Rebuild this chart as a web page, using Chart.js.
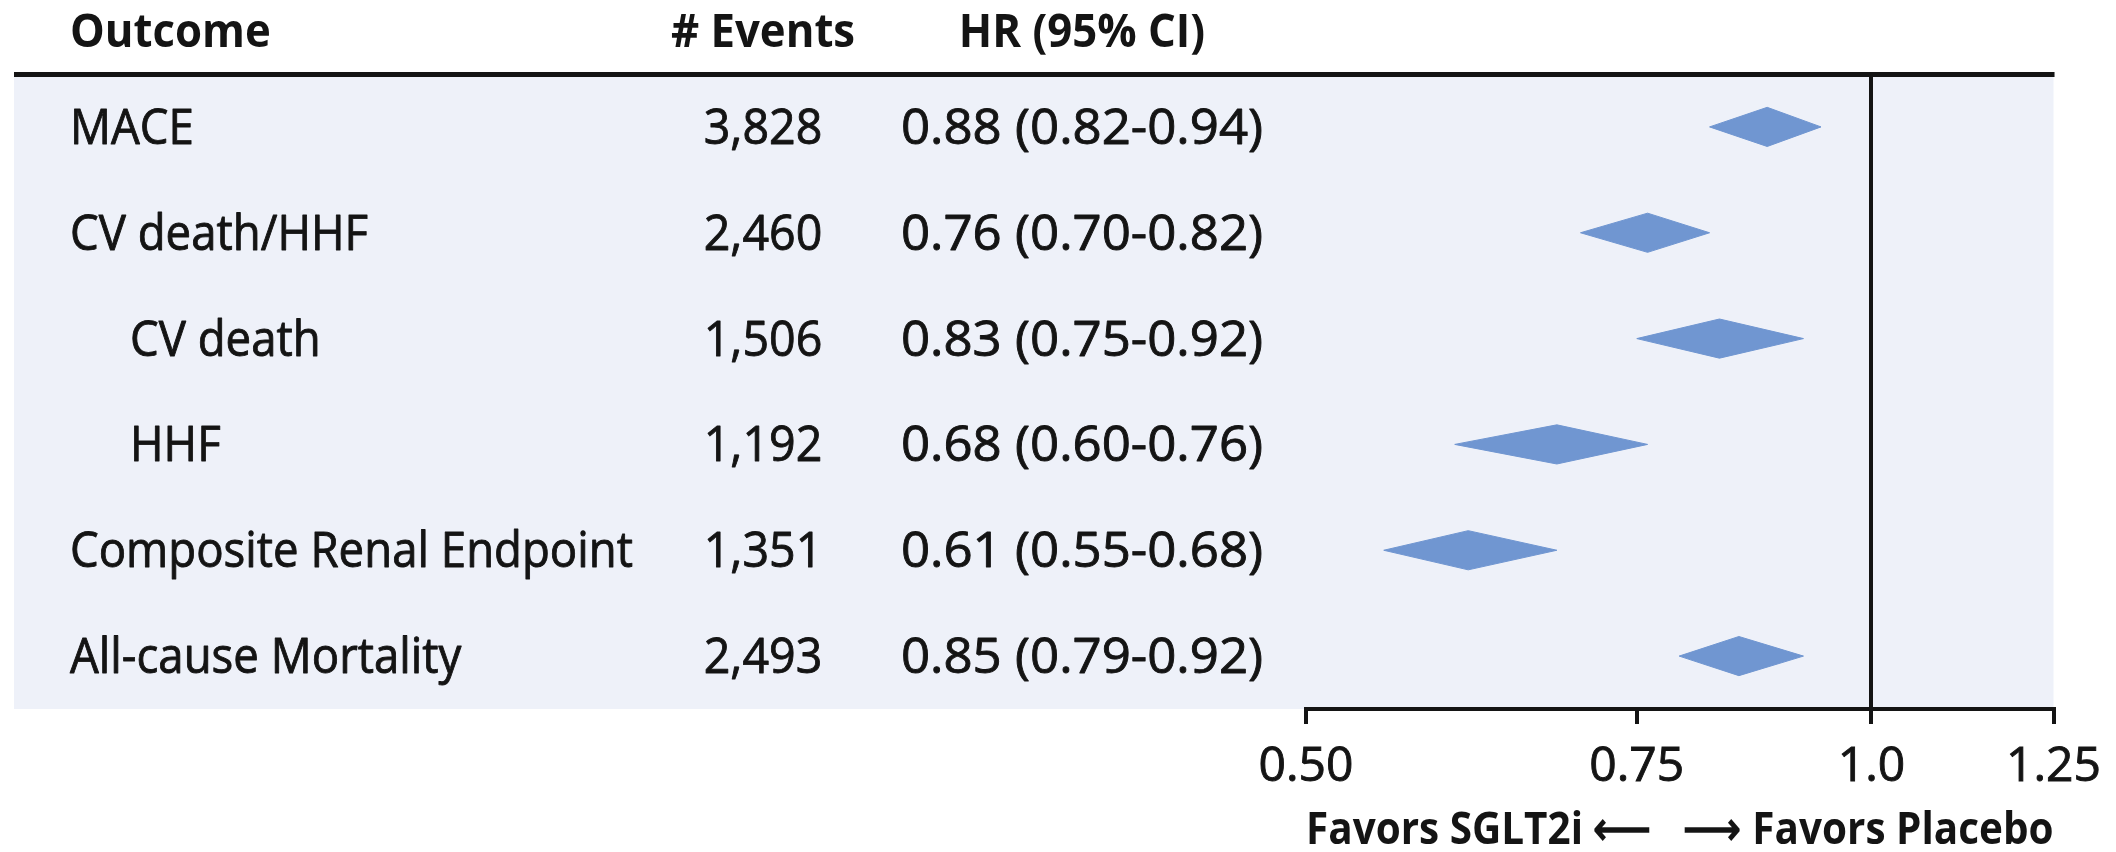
<!DOCTYPE html>
<html>
<head>
<meta charset="utf-8">
<script src="https://cdn.jsdelivr.net/npm/chart.js@4.4.1/dist/chart.umd.min.js"></script>
<style>
  html, body { margin: 0; padding: 0; background: #ffffff; }
  #wrap { width: 2116px; height: 852px; }
</style>
</head>
<body>
<div id="wrap"><canvas id="forest" width="2116" height="852"></canvas></div>
<script>
// Outcomes, event counts and hazard ratios with 95% confidence limits
const outcomes = ['MACE', 'CV death/HHF', 'CV death', 'HHF', 'Composite Renal Endpoint', 'All-cause Mortality'];
const subLevel = [0, 0, 1, 1, 0, 0];
const events = [3828, 2460, 1506, 1192, 1351, 2493];
const hr = [0.88, 0.76, 0.83, 0.68, 0.61, 0.85];
const ciLow = [0.82, 0.70, 0.75, 0.60, 0.55, 0.79];
const ciHigh = [0.94, 0.82, 0.92, 0.76, 0.68, 0.92];

// x axis (log scale) ticks and headings
const tickValues = [0.5, 0.75, 1.0, 1.25];
const tickLabels = ['0.50', '0.75', '1.0', '1.25'];
const headers = ['Outcome', '# Events', 'HR (95% CI)'];
const axisTitle = 'Favors SGLT2i \u27F5   \u27F6 Favors Placebo';

// styling
const FONT = "'Open Sans', 'Noto Sans', sans-serif";
const INK = '#141414';
const PANEL = '#eef1f9';
const DIAMOND = '#7096d1';
const HALF_H = 0.185;          // diamond half-height in row units
const PANEL_LEFT = 14;
const COL_LABEL = 70;
const COL_INDENT = 130;
const COL_EVENTS = 763;
const COL_HR = 1082;

const fmt2 = v => v.toFixed(2);
const hrText = i => `${fmt2(hr[i])} (${fmt2(ciLow[i])}-${fmt2(ciHigh[i])})`;

// draws text squeezed or widened horizontally around its anchor, optionally thickened
function drawText(ctx, text, x, y, align, sx, stroke) {
  ctx.save();
  ctx.translate(x, y);
  ctx.scale(sx, 1);
  ctx.textAlign = align;
  ctx.fillText(text, 0, 0);
  if (stroke) {
    ctx.lineWidth = stroke;
    ctx.strokeStyle = ctx.fillStyle;
    ctx.lineJoin = 'round';
    ctx.strokeText(text, 0, 0);
  }
  ctx.restore();
}

const datasets = outcomes.map((name, i) => ({
  label: name,
  data: [
    { x: ciLow[i], y: i },
    { x: hr[i], y: i - HALF_H },
    { x: ciHigh[i], y: i },
    { x: hr[i], y: i + HALF_H },
    { x: ciLow[i], y: i }
  ],
  showLine: true,
  fill: 'shape',
  tension: 0,
  backgroundColor: DIAMOND,
  borderColor: DIAMOND,
  borderWidth: 1,
  pointRadius: 0,
  pointHoverRadius: 0
}));

const forestTable = {
  id: 'forestTable',
  beforeDraw(chart) {
    const { ctx, chartArea: a, scales: { y } } = chart;
    const top = y.getPixelForValue(-0.5);
    const bottom = y.getPixelForValue(outcomes.length - 0.5);
    ctx.save();
    ctx.fillStyle = PANEL;
    ctx.fillRect(PANEL_LEFT, top, a.right - PANEL_LEFT, bottom - top);
    ctx.restore();
  },
  afterDatasetsDraw(chart) {
    const { ctx, chartArea: a, scales: { x, y } } = chart;
    ctx.save();

    // line of no effect
    const x1 = Math.round(x.getPixelForValue(1.0));
    ctx.strokeStyle = INK;
    ctx.lineWidth = 4;
    ctx.beginPath();
    ctx.moveTo(x1, a.top - 2);
    ctx.lineTo(x1, a.bottom);
    ctx.stroke();

    // heading rule
    ctx.lineWidth = 5;
    ctx.beginPath();
    ctx.moveTo(PANEL_LEFT, a.top + 0.5);
    ctx.lineTo(a.right + 1, a.top + 0.5);
    ctx.stroke();

    // headings
    ctx.fillStyle = INK;
    ctx.textBaseline = 'alphabetic';
    ctx.font = `bold 46px ${FONT}`;
    const hy = 47;
    drawText(ctx, headers[0], COL_LABEL, hy, 'left', 0.95);
    drawText(ctx, headers[1], COL_EVENTS, hy, 'center', 0.95);
    drawText(ctx, headers[2], COL_HR, hy, 'center', 0.95);

    // rows
    ctx.font = `49px ${FONT}`;
    outcomes.forEach((name, i) => {
      const ry = y.getPixelForValue(i) + 17;
      drawText(ctx, name, subLevel[i] ? COL_INDENT : COL_LABEL, ry, 'left', 0.93, 0.9);
      drawText(ctx, events[i].toLocaleString('en-US'), COL_EVENTS, ry, 'center', 0.95, 0.9);
      drawText(ctx, hrText(i), COL_HR, ry, 'center', 1.04, 0.9);
    });
    ctx.restore();
  }
};

new Chart(document.getElementById('forest'), {
  type: 'scatter',
  data: { datasets },
  plugins: [forestTable],
  options: {
    responsive: false,
    animation: false,
    devicePixelRatio: 1,
    events: [],
    layout: { padding: { left: 1306, right: 58, top: 74, bottom: 0 } },
    plugins: { legend: { display: false }, tooltip: { enabled: false } },
    scales: {
      x: {
        type: 'logarithmic',
        min: 0.5,
        max: 1.25,
        afterBuildTicks(scale) { scale.ticks = tickValues.map(v => ({ value: v })); },
        afterFit(scale) { scale.height = 143; },
        grid: {
          display: true,
          drawOnChartArea: false,
          drawTicks: true,
          tickLength: 15,
          lineWidth: 4,
          tickWidth: 4,
          color: INK,
          tickColor: INK
        },
        border: { display: true, color: INK, width: 4 },
        ticks: {
          autoSkip: false,
          maxRotation: 0,
          padding: 15,
          color: INK,
          textStrokeColor: INK,
          textStrokeWidth: 0.9,
          font: { family: FONT, size: 48 },
          callback: (value, index) => tickLabels[index]
        },
        title: {
          display: true,
          text: axisTitle,
          color: INK,
          font: { family: FONT, size: 45, weight: 'bold', lineHeight: 0.8 },
          padding: { top: 0, bottom: 3 }
        }
      },
      y: {
        type: 'linear',
        display: false,
        reverse: true,
        min: -0.5,
        max: outcomes.length - 0.5
      }
    }
  }
});
</script>
</body>
</html>
